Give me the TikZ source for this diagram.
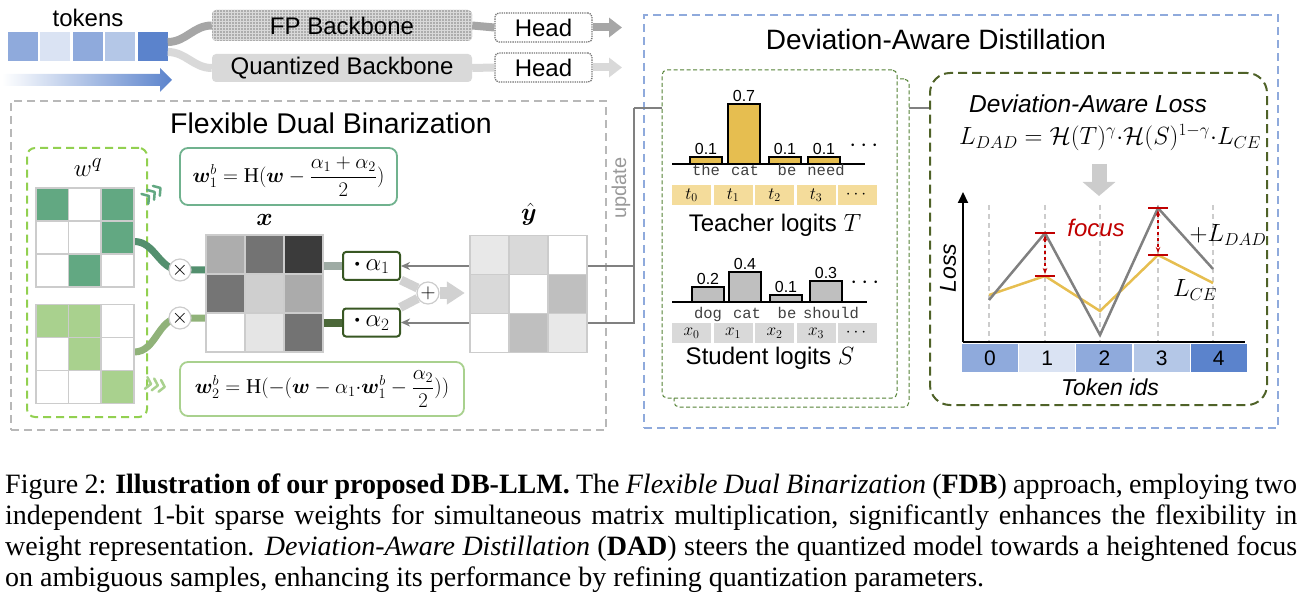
\documentclass[tikz,border=0pt]{standalone}
\usepackage{amsmath,bm}
\usepackage{fontspec}
\setmainfont{Liberation Serif}
\setsansfont{Liberation Sans}
\setmonofont{Liberation Mono}
\usetikzlibrary{arrows.meta,positioning,patterns,calc,backgrounds}
\newcommand\fsz[1]{\fontsize{#1}{#1}\selectfont}
\definecolor{tkA}{RGB}{143,170,220}
\definecolor{tkB}{RGB}{218,227,243}
\definecolor{tkC}{RGB}{180,199,231}
\definecolor{tkD}{RGB}{91,131,204}
\definecolor{wdark}{RGB}{98,168,130}
\definecolor{wmid}{RGB}{112,178,142}
\definecolor{wlight}{RGB}{169,209,142}
\definecolor{wlime}{RGB}{146,208,80}
\definecolor{agreen}{RGB}{56,87,35}
\definecolor{dgreen}{RGB}{84,130,53}
\definecolor{lgreen}{RGB}{79,98,40}
\definecolor{gold}{RGB}{230,190,80}
\definecolor{lgold}{RGB}{244,220,155}
\definecolor{dred}{RGB}{192,0,0}
\begin{document}
\begin{tikzpicture}[x=1pt, y=-1pt, every node/.style={inner sep=0pt, font=\sffamily\fsz{24}},
 tokc/.style={minimum width=30pt, minimum height=29pt},
 bb/.style={rounded corners=4pt, minimum width=260pt},
 headbox/.style={draw=black!55, densely dotted, line width=1.3pt, rounded corners=4pt, minimum width=97pt, minimum height=29pt},
 band/.style={line width=8pt},
 outbox/.style={dashed, dash pattern=on 8pt off 5pt},
 mat/.style={minimum width=98pt, minimum height=99pt},
 big/.style={minimum width=117pt, minimum height=117pt},
 cell/.style={draw=black!20, line width=1.5pt},
 eqbox/.style={rounded corners=8pt, line width=1.8pt, fill=white, font=\fsz{21}},
 chev/.style={line width=2.5pt, line cap=round, line join=round},
 opc/.style={circle, draw=black!20, line width=1.2pt, fill=white, minimum size=22pt, font=\fsz{22}},
 abox/.style={draw=agreen, line width=2pt, rounded corners=3pt, fill=white, minimum width=57pt, minimum height=28pt, font=\fsz{24}},
 gline/.style={draw=black!50, line width=2pt},
 tbox/.style={draw=dgreen, dashed, dash pattern=on 4pt off 2.5pt, line width=1pt, fill=white, rounded corners=5pt, minimum width=235pt, minimum height=328pt},
 bar/.style={draw=black, line width=1.5pt},
 lcell/.style={minimum width=39pt, minimum height=20pt, font=\fsz{17}},
 word/.style={font=\ttfamily\fsz{15.5}, text=black!75, anchor=base},
 val/.style={font=\sffamily\fsz{16}},
 idc/.style={minimum width=56pt, minimum height=28pt, font=\sffamily\fsz{21}},
 redm/.style={draw=dred, line width=2pt}]
\useasboundingbox (0,0) rectangle (1306,612);

% input side
\foreach \c [count=\i] in {tkA,tkB,tkA,tkC,tkD} \node[tokc, fill=\c] (tk\i) at (22.5+32.5*\i-32.5,46.5) {};
\node (tkl) at (88,18) {tokens};
\shade[left color=white, right color=tkD] (2,74) -- (160,74) -- (160,68) -- (172,80) -- (160,92) -- (160,86) -- (2,86) -- cycle;
\node[bb, minimum height=31pt, preaction={fill=black!32}, pattern=grid, pattern color=black!15] (fp) at (342,25.5) {FP Backbone};
\node[bb, minimum height=28pt, fill=black!15] (qb) at (342,68) {Quantized Backbone};
\node[headbox] (h1) at (543.5,27.5) {Head};
\node[headbox] (h2) at (543.5,67.5) {Head};
\coordinate (o1) at (622,27.5); \coordinate (o2) at (622,67.5);
\draw[band, black!35] ([yshift=4.5pt]tk5.east) to[out=0,in=180] (fp.west); \draw[band, black!35] (fp.east) -- (h1.west);
\draw[band, black!35, -{Triangle[length=13pt,width=19pt]}] (h1.east) -- (o1);
\draw[band, black!15] ([yshift=-5.5pt]tk5.east) to[out=0,in=180] (qb.west); \draw[band, black!15] (qb.east) -- (h2.west);
\draw[band, black!15, -{Triangle[length=13pt,width=19pt]}] (h2.east) -- (o2);

\begin{scope}[on background layer]
\node[outbox, draw=black!28, line width=1.8pt, minimum width=595pt, minimum height=329pt] (fdb) at (308.5,265.5) {};
\node[outbox, draw=tkA, line width=1.5pt, minimum width=634pt, minimum height=413pt] (dad) at (961,221.5) {};
\node[outbox, draw=wlime, line width=2pt, rounded corners=8pt, minimum width=120pt, minimum height=269pt] (wq) at (87,282.5) {};
\end{scope}

% flexible dual binarization
\node[font=\sffamily\fsz{28.5}] (fdbt) at (331,123) {Flexible Dual Binarization};
\node[font=\fsz{32}] (wql) at (88,168) {$w^q$};
\node[mat] (wa) at (85,237.5) {};
\node[mat] (wb) at (85,354) {};
\foreach \c [count=\i from 0] in {wdark,white,wdark,white,white,wdark,white,wdark,white}
 {\pgfmathtruncatemacro\rw{\i/3}\pgfmathtruncatemacro\cl{mod(\i,3)}
  \path[cell, fill=\c] ($(wa.north west)+(\cl*32.67,\rw*33)$) rectangle ++(32.67,33);}
\foreach \c [count=\i from 0] in {wlight,wlight,white,white,wlight,white,white,white,wlight}
 {\pgfmathtruncatemacro\rw{\i/3}\pgfmathtruncatemacro\cl{mod(\i,3)}
  \path[cell, fill=\c] ($(wb.north west)+(\cl*32.67,\rw*33)$) rectangle ++(32.67,33);}
\node[eqbox, draw=wmid, minimum width=217pt, minimum height=57pt] (e1) at (288.5,176.5) {$\bm{w}_1^b = \mathrm{H}(\bm{w} - \dfrac{\alpha_1+\alpha_2}{2})$};
\node[eqbox, draw=wlight, minimum width=284pt, minimum height=54pt] (e2) at (322,389) {$\bm{w}_2^b = \mathrm{H}(-(\bm{w} - \alpha_1{\cdot}\bm{w}_1^b - \dfrac{\alpha_2}{2}))$};
\foreach \s in {0,7,14} \draw[chev, wdark, shift={(149,196)}, rotate=35] (\s-5,-6) -- (\s,0) -- (\s-5,6);
\foreach \s in {0,7,14} \draw[chev, wlight, shift={(151,384)}, rotate=-12] (\s-5,-6) -- (\s,0) -- (\s-5,6);
\node[opc] (m1) at (180,270) {$\times$};
\node[opc] (m2) at (180,318) {$\times$};
\node[big] (xm) at (264.5,293.5) {};
\foreach \c [count=\i from 0] in {black!32,black!55,black!77,black!54,black!19,black!33,white,black!10,black!55}
 {\pgfmathtruncatemacro\rw{\i/3}\pgfmathtruncatemacro\cl{mod(\i,3)}
  \path[cell, fill=\c] ($(xm.north west)+(\cl*39,\rw*39)$) rectangle ++(39,39);}
\node[font=\fsz{26}] (xl) at (264.5,220) {$\bm{x}$};
\node[abox] (a1) at (371.5,266) {$\bm{\cdot}\,\alpha_1$};
\node[abox] (a2) at (371.5,322.5) {$\bm{\cdot}\,\alpha_2$};
\node[opc] (pl) at (428,293) {$+$};
\node[big] (yh) at (528.5,294) {};
\foreach \c [count=\i from 0] in {black!9,black!15,white,black!15,white,black!25,white,black!25,black!9}
 {\pgfmathtruncatemacro\rw{\i/3}\pgfmathtruncatemacro\cl{mod(\i,3)}
  \path[cell, fill=\c] ($(yh.north west)+(\cl*39,\rw*39)$) rectangle ++(39,39);}
\node[font=\fsz{26}] (yl) at (529,214) {$\hat{\bm{y}}$};
\coordinate (up) at (634,108);
\node[rotate=90, text=black!40, font=\sffamily\fsz{20}] (upl) at (621,188) {update};

% deviation-aware distillation
\node[font=\sffamily\fsz{28}] (dadt) at (936,39) {Deviation-Aware Distillation};
\node[tbox] (tb2) at (791.5,243) {};
\node[tbox] (tb) at (779.5,234) {};
\draw[line width=2pt] (672,164) -- (865,164);
\foreach \x/\tp/\vl [count=\i] in {690/157/0.1,728/104/0.7,769/157/0.1,808/157/0.1}
 {\path[bar, fill=gold] (\x,\tp) rectangle (\x+32,164); \node[val, above=2pt] (tv\i) at (\x+16,\tp) {\vl};}
\foreach \x/\w [count=\i] in {706/the,745/cat,787/be,826/need} \node[word] (tw\i) at (\x,176) {\w};
\foreach \lab [count=\i] in {t_0,t_1,t_2,t_3,\cdots} \node[lcell, fill=lgold] (tc\i) at (691.5+41.5*\i-41.5,195) {$\lab$};
\node (tdots) at (866,146) {$\cdots$};
\node (tlab) at (775,225) {Teacher logits $T$};
\draw[line width=2pt] (672,302) -- (867,302);
\foreach \x/\tp/\vl [count=\i] in {692/287/0.2,729/272/0.4,770/295/0.1,810/281/0.3}
 {\path[bar, fill=black!25] (\x,\tp) rectangle (\x+32,302); \node[val, above=2pt] (sv\i) at (\x+16,\tp) {\vl};}
\foreach \x/\w [count=\i] in {708/dog,747/cat,787/be,831/should} \node[word] (sw\i) at (\x,319) {\w};
\foreach \lab [count=\i] in {x_0,x_1,x_2,x_3,\cdots} \node[lcell, fill=black!15] (sc\i) at (691.5+41.5*\i-41.5,333) {$\lab$};
\node (sdots) at (867,283) {$\cdots$};
\node (slab) at (770,358) {Student logits $S$};

\node[dashed, dash pattern=on 9pt off 5pt, draw=lgreen, line width=2pt, rounded corners=20pt, minimum width=337pt, minimum height=332pt] (lb) at (1098.5,239) {};
\node[font=\sffamily\itshape\fsz{24.5}] (lt) at (1088,104) {Deviation-Aware Loss};
\node[font=\fsz{25}] (lf) at (1110,138) {$L_{DAD} = \mathcal{H}(T)^{\gamma}{\cdot}\mathcal{H}(S)^{1-\gamma}{\cdot}L_{CE}$};
\coordinate (d1) at (1099,164); \coordinate (d2) at (1099,196);
\draw[line width=15pt, black!20, -{Triangle[length=14pt,width=32pt]}] (d1) -- (d2);
\coordinate (org) at (963,342); \coordinate (ytip) at (963,192); \coordinate (xend) at (1245,342);
\foreach \x in {989,1045,1100,1158,1213} \draw[black!20, dashed, dash pattern=on 5pt off 4pt, line width=1.5pt] (\x,205) -- (\x,342);
\draw[line width=2pt, -{Triangle[length=11pt,width=10pt]}] (org) -- (ytip);
\draw[line width=2.5pt] (org) -- (xend);
\foreach \c [count=\i from 0] in {tkA,tkB,tkA,tkC,tkD} \node[idc, fill=\c] (id\i) at (990+57.2*\i,358) {\i};
\draw[gold, line width=2.5pt] plot coordinates {(989,295) (1045,276) (1100,311) (1158,255) (1213,283)};
\draw[black!50, line width=2.5pt] plot coordinates {(989,300) (1045,233) (1100,335) (1158,208) (1213,269)};
\foreach \x/\ta/\tb in {1045/233/276,1158/208/255}
 {\draw[redm] (\x-10,\ta) -- (\x+10,\ta) (\x-10,\tb) -- (\x+10,\tb);
  \draw[dred, dashed, line width=1.3pt, {Stealth[length=6pt]}-{Stealth[length=6pt]}] (\x,\ta+2) -- (\x,\tb-2);}
\node[text=dred, font=\sffamily\itshape\fsz{24}] (fc) at (1096,228) {focus};
\node (ldad) at (1228,235) {$+L_{DAD}$};
\node (lce) at (1195,290) {$L_{CE}$};
\node[rotate=90, font=\sffamily\itshape\fsz{23}] (lss) at (948,268) {Loss};
\node[font=\sffamily\itshape\fsz{23}] (tid) at (1110,387) {Token ids};

\begin{scope}[on background layer]
\draw[line width=7pt, wdark!85!black] ([yshift=-4pt]wa.east) to[out=0,in=180] (m1.center) -- (m1 -| xm.west);
\draw[line width=7pt, wlight!85!black] ([yshift=2pt]wb.east) to[out=0,in=180] (m2.center) -- (m2 -| xm.west);
\draw[band, wdark!40!black!45] (xm.east |- a1) -- (a1.west);
\draw[band, agreen!90] (xm.east |- a2) -- (a2.west);
\draw[line width=9pt, black!18] (a1) -- (pl) (a2) -- (pl);
\draw[line width=11pt, black!18, -{Triangle[length=18pt,width=22pt]}, shorten >=5pt] (pl.east) -- (yh.west |- pl);
\draw[gline, -{Stealth[length=9pt,width=8pt]}] (up) |- (a1.east);
\draw[gline, -{Stealth[length=9pt,width=8pt]}] (up) |- (a2.east);
\draw[gline] (up) -- (lb.west |- up);
\end{scope}

% caption
\node[anchor=north west, font=\rmfamily\fontsize{28}{31}\selectfont, align=left] (cap) at (5,474) {\makebox[1292pt][s]{Figure 2: \textbf{Illustration of our proposed DB-LLM.} The \textit{Flexible Dual Binarization} (\textbf{FDB}) approach, employing two}\\
\makebox[1292pt][s]{independent 1-bit sparse weights for simultaneous matrix multiplication, significantly enhances the flexibility in}\\
\makebox[1292pt][s]{weight representation. \textit{Deviation-Aware Distillation} (\textbf{DAD}) steers the quantized model towards a heightened focus}\\
on ambiguous samples, enhancing its performance by refining quantization parameters.};
\end{tikzpicture}
\end{document}
